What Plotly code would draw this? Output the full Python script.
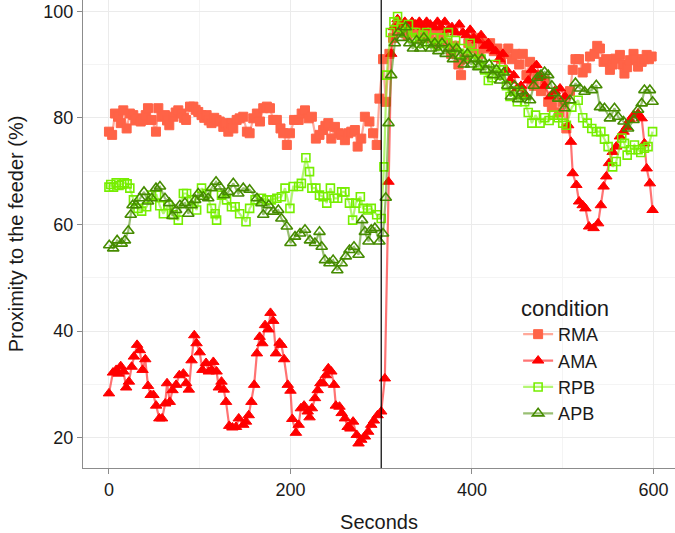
import plotly.graph_objects as go

# ---------------- data ----------------
rma_t = [0, 3.5, 6.6, 10, 13, 15.8, 19.5, 23, 26.8, 29, 32, 35, 37.8, 40.5, 43, 47, 51.8, 54.4, 58, 61.7,
         64, 66.5, 71, 73.5, 76.4, 80, 82.5, 85, 89.3, 93, 95.5, 98.4, 102, 105, 107.6, 110, 113, 116, 118.6, 122,
         126, 128.5, 131.5, 135, 137, 140.7, 144, 148, 152, 155, 159, 163, 166.4, 170, 174, 177.4, 181, 185, 189, 192,
         196, 199.4, 204, 209, 212.3, 216, 220, 223.6, 228, 232, 236, 238.5, 241.7, 245, 249, 253, 256, 260, 263.7, 267,
         271, 274, 278, 282, 287, 291, 295, 298, 302, 305, 309, 313, 317, 321, 325, 329, 333, 337, 341, 345,
         349, 353, 357, 361, 365, 369, 373, 377, 381, 385, 388, 392, 396, 400, 404, 408, 412, 416, 420, 424,
         428, 432, 436, 440, 444, 448, 452, 456, 460, 464, 468, 472, 476, 480, 484, 488, 492, 496, 500, 504,
         508, 511, 514, 518, 522, 526, 530, 535, 538, 541, 545, 548, 552, 555, 558, 563, 566, 568, 571, 574,
         578, 580, 583, 587, 590, 592.5, 595, 598]
rma_v = [77.4, 76.8, 80.8, 80.2, 79, 81.4, 78, 80.8, 80.5, 79.5, 79.9, 79.3, 79.6, 80.5, 81.8, 79.6, 77.4, 81.8, 80.2, 80.5,
         79.5, 78.6, 80.2, 81, 81.4, 80.8, 80, 79.6, 82.1, 82.1, 81.5, 81.1, 80.5, 80, 80.5, 79.5, 79, 80, 79.6, 79.3,
         78.3, 79, 77.4, 79, 78, 79.6, 79.9, 80.2, 77.4, 77.1, 79.9, 80.8, 79.3, 81.8, 82.1, 81.8, 79.6, 79.6, 78, 77.1,
         74.9, 77.1, 79.6, 79.6, 80.8, 81.4, 79.9, 80.2, 76.1, 76.8, 77.7, 78.5, 79, 76.1, 78.3, 77.1, 76.8, 75.8, 77.1, 77.4,
         77.7, 74.6, 76.1, 80.2, 79.3, 77.1, 74.9, 83.6, 91, 83, 92, 95, 96.5, 97, 96, 95.5, 97, 96, 97, 95,
         96, 95, 96.5, 94, 95.5, 96, 94, 92, 93.5, 90, 88, 91, 94, 93, 95, 92, 94, 93, 94, 92.5,
         93, 91, 92, 93, 91, 92, 90, 92, 88, 90.5, 86, 88, 85, 87, 83, 82, 84, 81, 83, 78,
         85, 89, 91, 91, 88.5, 89.3, 91.5, 92, 93.5, 93, 90.5, 91, 89, 90, 91.1, 91.8, 90, 88.3, 89.5, 90.8,
         92, 91, 89.6, 90.5, 91, 91.8, 91, 91.5]

ama_t = [0, 4.4, 8, 10.5, 13, 16, 19, 22, 25, 27.5, 31, 34, 37, 40, 43, 46, 49, 52, 55.5, 58.5,
         62, 64, 67, 70, 74, 77.5, 82, 85, 88, 91, 94, 96.5, 100, 103, 107, 110, 113, 115, 118.6, 121,
         124, 126.5, 129, 132.5, 136, 140, 143, 148, 151, 154, 157, 160, 163, 166, 169, 172, 175.6, 178, 181, 184,
         188, 190, 193, 197, 200, 202, 206, 209, 211.5, 215, 219, 221, 223.6, 227, 230, 233, 236, 239, 241.7, 245,
         248, 250, 254, 256.4, 260, 263, 266, 269, 273, 275, 278, 282, 285.6, 289, 292, 296, 300, 304, 308, 311,
         314, 318, 322, 326, 330, 334, 338, 342, 346, 350, 354, 358, 362, 366, 370, 374, 378, 382, 386, 390,
         394, 398, 402, 406, 410, 414, 418, 422, 426, 430, 434, 438, 442, 446, 450, 454, 458, 462, 466, 471,
         475, 480, 486, 491, 497, 502.5, 506, 509, 511, 515, 518, 522, 525, 529, 534, 539, 542, 545, 548, 551,
         555, 559, 563, 567, 570.5, 574, 578, 583, 587, 590, 592.5, 596, 599]
ama_v = [28.3, 32.2, 32.7, 32, 33.4, 32.4, 29.4, 30.5, 33.3, 35.2, 37.4, 36.4, 32.7, 34.7, 29.7, 28, 28, 26, 23.6, 23.6,
         26.4, 30.2, 26.7, 28.9, 29.9, 31.7, 32, 30.2, 29, 34.5, 39.2, 37.7, 36, 32.7, 34, 32.4, 32.7, 34.2, 32.4, 29.4,
         30.5, 29, 26.7, 22.2, 21.9, 22, 23.6, 22.4, 23, 24.2, 26.7, 29.9, 35.8, 38.9, 37.7, 41.1, 40.3, 43.4, 41.9, 35.8,
         37.8, 37.4, 34.7, 29.9, 28.8, 23.5, 20.9, 22.4, 25.5, 26, 24.9, 23.8, 25.5, 27.4, 28.9, 30.2, 30.2, 31.7, 33, 32.4,
         29.9, 26, 25.8, 24.6, 23.6, 22, 21.7, 23, 20.5, 18.9, 19.6, 20.2, 21.1, 22.4, 23.2, 24.2, 24.9, 31.1, 68, 92,
         97, 98.5, 97.5, 98, 97, 98, 97.5, 98, 97, 98, 97.5, 97, 98, 97, 98, 96.5, 97, 96, 97.5, 96,
         95.5, 96.5, 95, 94.5, 95.5, 93.5, 94, 93, 92.5, 91, 92, 89, 87, 88, 85.5, 86, 84.5, 87, 89, 89.9,
         87.7, 86, 84, 85, 85.5, 84, 78.6, 75.5, 69.6, 67.4, 64.3, 63.6, 63, 59.6, 59.3, 60.2, 63.6, 67.1, 69, 71.5,
         73.6, 74.6, 76.5, 77.4, 78.3, 79.6, 80.5, 80.8, 79.9, 75.2, 70.5, 67.7, 62.7]

rpb_t = [0, 2, 5, 8, 11, 14, 17, 20, 23, 27, 32, 36, 41.5, 47, 52.5, 56, 60, 65.4, 71, 76.4,
         82, 85.6, 91, 96.6, 102, 107.6, 113, 117, 118.6, 124, 129.6, 135, 139, 144, 151, 155, 161, 168, 174, 179,
         185, 190, 194, 199.4, 203, 209, 212, 217, 221, 223.6, 228, 232, 236, 240, 244, 248, 252, 256.4, 260, 265,
         268.5, 272, 277, 280, 285, 289, 295, 300, 303, 306, 310, 314, 318, 322, 326, 330, 334, 338, 342, 346,
         350, 354, 358, 362, 366, 370, 374, 378, 382, 386, 390, 394, 398, 402, 406, 410, 414, 418, 422, 426,
         430, 434, 438, 442, 446, 450, 454, 458, 462, 466, 470, 475, 480, 485, 490, 495, 500, 504, 510, 517,
         522, 527, 532, 537, 542, 546, 550, 555, 559, 565, 568, 571, 575, 579, 583, 586, 590, 594, 599]
rpb_v = [67, 67.5, 67, 67.8, 67.3, 67.5, 67.8, 67.6, 66.8, 64.6, 63, 62.5, 63.3, 65.5, 65.5, 63.5, 62, 63.6, 61.8, 60.8,
         65.8, 65.8, 64.6, 62.7, 66.8, 65.8, 63, 62, 60.8, 65.5, 64.6, 63.3, 63.3, 62, 60.5, 63, 64.6, 64.9, 64.6, 64.6,
         64.9, 65.2, 66.8, 63, 67.1, 67.1, 67.7, 72.5, 69.9, 66.8, 66.8, 65.5, 65.2, 64, 66.8, 64.9, 64.9, 66.1, 66.1, 64,
         60.8, 64, 65.2, 63, 62.7, 63, 61.8, 61.1, 70.8, 88, 96, 98, 99, 97, 96, 97.5, 95, 96, 94, 95.5,
         96, 94, 95, 93.5, 95, 94, 96, 93, 94.5, 92, 93, 91.5, 94, 92, 90, 91, 89, 87, 87.5, 90,
         88, 89, 86, 84, 85, 83, 84.5, 83, 81, 79, 80.5, 79, 80, 79.5, 80.5, 80, 79, 78.6, 82, 83.3,
         80, 79, 78, 77.4, 77.4, 76, 74.6, 70.8, 71.8, 76.2, 75.2, 73, 74, 74.9, 74, 73.5, 74.3, 74.6, 77.4]

apb_t = [0.3, 4.7, 9, 14, 17.6, 21.3, 24, 26, 29.8, 34, 38.6, 43, 47, 51.8, 56.2, 61.7, 66.5, 70, 74, 78.2,
         83.7, 87.4, 91, 95, 98.4, 104, 109.4, 113, 118, 122, 126.7, 131.5, 137, 142.5, 148, 155, 163, 168, 170, 176,
         181, 186.6, 190, 196, 200, 205, 210.5, 216, 221.5, 227, 232, 234.4, 238, 243, 247, 251.6, 256.4, 261, 265, 270,
         275, 279, 282, 286, 289, 293, 298, 302, 305, 308, 311, 315, 319, 323, 327, 331, 335, 339, 343, 347,
         351, 355, 359, 363, 367, 371, 375, 379, 383, 387, 391, 395, 399, 403, 407, 411, 415, 419, 423, 427,
         431, 435, 439, 443, 447, 451, 455, 459, 464, 468, 472, 476, 480, 484, 488, 490, 495, 502, 508, 514,
         519, 524, 532, 537, 541, 546, 552, 557, 561, 567, 572, 578, 583, 587, 590, 596, 599]
apb_v = [56.1, 55.5, 57, 56.4, 57, 58.8, 61.8, 63.6, 63.6, 64.9, 66.1, 64.3, 64.9, 66.8, 67.1, 64.9, 64, 61.6, 62.7, 63.6,
         64, 62, 63.6, 64.6, 65.8, 65.2, 64.9, 66.8, 68, 67.1, 65.5, 66.1, 67.7, 65.8, 66.8, 66.5, 64.9, 64, 61.8, 63.6,
         62.4, 62.7, 61.1, 59.6, 56.5, 57.7, 58.3, 59, 57, 56.5, 58.6, 55.8, 53.3, 52.7, 53.3, 51.4, 52.7, 54, 55.2, 55.8,
         54.3, 60.8, 58.6, 56.8, 59, 59.3, 56.8, 58.3, 65, 79, 88, 94, 96, 95, 97, 94, 93, 94.5, 93, 95,
         94, 93, 94, 92.5, 94, 92, 93, 91, 93, 91.5, 90, 92, 90, 91, 89.5, 91, 89, 90, 88, 89,
         87, 88.5, 86, 84, 86, 83.5, 85, 84, 83.3, 86, 87.5, 88, 88.6, 88, 86, 84.6, 83.6, 81.8, 83.3, 86.5,
         85.5, 84.9, 85.2, 86.1, 82, 81.8, 79.9, 81.8, 80.2, 79.3, 78, 79.6, 81.5, 82.7, 85.2, 85.2, 83]

conditions = ["RMA", "AMA", "RPB", "APB"]
x_ticks = [0, 200, 400, 600]
y_ticks = [20, 40, 60, 80, 100]
switch_time = 300

# ---------------- styling ----------------
styles = {
    "RMA": dict(color="#FF6347", line="rgba(255,99,71,0.55)", symbol="square", size=9, lw=1),
    "AMA": dict(color="#FF0000", line="rgba(255,0,0,0.55)", symbol="triangle-up", size=10, lw=1),
    "RPB": dict(color="#76EE00", line="rgba(118,238,0,0.55)", symbol="square-open", size=8, lw=1.6),
    "APB": dict(color="#458B00", line="rgba(69,139,0,0.55)", symbol="triangle-up-open", size=10, lw=1.6),
}
data = {"RMA": (rma_t, rma_v), "AMA": (ama_t, ama_v), "RPB": (rpb_t, rpb_v), "APB": (apb_t, apb_v)}

font = "Liberation Sans, Arial, sans-serif"
fig = go.Figure()
for name in conditions:
    t, v = data[name]
    s = styles[name]
    fig.add_trace(go.Scatter(
        x=t, y=v, name=name, mode="lines+markers",
        line=dict(color=s["line"], width=2.2),
        marker=dict(symbol=s["symbol"], size=s["size"], color=s["color"],
                    line=dict(color=s["color"], width=s["lw"])),
    ))

fig.add_shape(type="line", x0=switch_time, x1=switch_time, xref="x", yref="paper", y0=0, y1=1,
              line=dict(color="black", width=1.2))

fig.update_layout(
    width=675, height=533,
    margin=dict(l=83, r=0, t=0, b=65, autoexpand=False),
    paper_bgcolor="white", plot_bgcolor="white",
    font=dict(family=font, size=18, color="#1a1a1a"),
    showlegend=True,
    legend=dict(
        title=dict(text="condition", font=dict(size=22, color="#1a1a1a"), side="top right"),
        x=0.735, y=0.386, xanchor="left", yanchor="top",
        font=dict(size=18, color="#1a1a1a"),
        bgcolor="rgba(255,255,255,0)", itemwidth=30, tracegroupgap=0,
    ),
    xaxis=dict(
        range=[-28.6, 623.7], tickvals=x_ticks, ticktext=[str(v) for v in x_ticks],
        automargin=False,
        showgrid=True, gridcolor="#EBEBEB", gridwidth=1,
        minor=dict(dtick=100, tick0=0, showgrid=True, gridcolor="#F4F4F4", gridwidth=0.6),
        showline=True, linecolor="#8c8c8c", linewidth=1,
        ticks="outside", ticklen=5, tickcolor="#8c8c8c",
        zeroline=False, tickfont=dict(size=18, color="#1a1a1a"),
        title=dict(text="Seconds", font=dict(size=20, color="#1a1a1a"), standoff=16),
    ),
    yaxis=dict(
        range=[14.3, 102.1], tickvals=y_ticks, ticktext=[str(v) for v in y_ticks],
        automargin=False,
        showgrid=True, gridcolor="#EBEBEB", gridwidth=1,
        minor=dict(dtick=10, tick0=0, showgrid=True, gridcolor="#F4F4F4", gridwidth=0.6),
        showline=True, linecolor="#8c8c8c", linewidth=1,
        ticks="outside", ticklen=5, tickcolor="#8c8c8c",
        zeroline=False, tickfont=dict(size=18, color="#1a1a1a"),
        title=dict(text="Proximity to the feeder (%)", font=dict(size=20, color="#1a1a1a"), standoff=14),
    ),
)

fig.write_html("out.html", config={"displayModeBar": False},
               post_script="document.body.style.margin='0';document.body.style.overflow='hidden';")
